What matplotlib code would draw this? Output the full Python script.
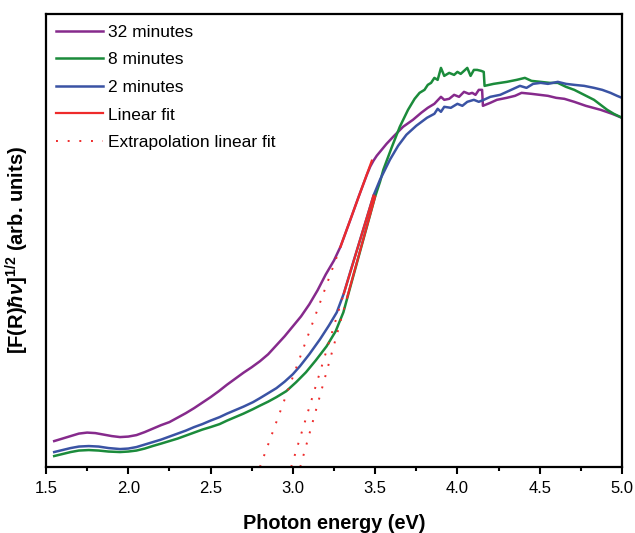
import matplotlib
matplotlib.use('Agg')
import matplotlib.pyplot as plt
from matplotlib.ticker import MultipleLocator

plt.rcParams['font.family'] = ['Liberation Sans', 'DejaVu Sans']
plt.rcParams['mathtext.fontset'] = 'custom'
plt.rcParams['mathtext.rm'] = 'Liberation Sans:bold'
plt.rcParams['mathtext.it'] = 'Liberation Sans:bold:italic'
plt.rcParams['mathtext.bf'] = 'Liberation Sans:bold'

# spectra (arb. units)
x_32 = [1.55, 1.60, 1.65, 1.70, 1.75, 1.80, 1.85, 1.90, 1.95, 2.00, 2.05, 2.10,
        2.15, 2.20, 2.25, 2.30, 2.35, 2.40, 2.45, 2.50, 2.55, 2.60, 2.65, 2.70,
        2.75, 2.80, 2.85, 2.90, 2.95, 3.00, 3.05, 3.10, 3.15, 3.20, 3.25, 3.29,
        3.35, 3.40, 3.45, 3.47, 3.49, 3.51, 3.54, 3.57, 3.61, 3.67, 3.73, 3.78,
        3.82, 3.86, 3.90, 3.92, 3.95, 3.98, 4.01, 4.04, 4.07, 4.09, 4.11, 4.13,
        4.15, 4.155, 4.20, 4.24, 4.30, 4.35, 4.39, 4.45, 4.50, 4.55, 4.60, 4.65,
        4.71, 4.78, 4.87, 4.94, 5.0]
y_32 = [26, 28.5, 31, 33.5, 34.5, 34, 32.5, 31, 30, 30.5, 32, 35,
        38.5, 42, 45, 49.5, 54, 59, 64.5, 70, 76, 82.5, 88.5, 94.5,
        100, 106, 113, 122, 131, 141, 151, 163, 177, 193, 207, 221,
        248, 271, 293, 301, 307, 312, 318, 324, 331, 341, 348, 355,
        360, 364, 371, 368, 369, 373, 371, 376, 374, 375, 373, 378,
        378, 362, 365, 368, 370, 372, 375, 374, 373, 372, 370, 369,
        366, 362, 358, 354, 350]

x_8 = [1.55, 1.60, 1.65, 1.70, 1.76, 1.82, 1.88, 1.95, 2.00, 2.05, 2.10, 2.148,
       2.20, 2.25, 2.30, 2.35, 2.40, 2.45, 2.50, 2.555, 2.60, 2.65, 2.70, 2.758,
       2.80, 2.85, 2.90, 2.96, 3.02, 3.08, 3.14, 3.205, 3.26, 3.307, 3.35, 3.40,
       3.45, 3.50, 3.53, 3.55, 3.60, 3.65, 3.70, 3.74, 3.77, 3.80, 3.82, 3.84,
       3.86, 3.88, 3.90, 3.92, 3.95, 3.98, 4.00, 4.02, 4.04, 4.06, 4.08, 4.10,
       4.12, 4.145, 4.16, 4.165, 4.22, 4.30, 4.36, 4.41, 4.45, 4.506, 4.56, 4.61,
       4.66, 4.71, 4.77, 4.83, 4.87, 4.91, 4.95, 5.0]
y_8 = [11, 13, 15, 16.5, 17, 16.5, 15.5, 15, 15.5, 16.5, 18.5, 21,
       23.5, 26, 28.5, 31.5, 34.5, 37.5, 40, 43, 46.5, 50, 53.5, 58,
       61.5, 65.5, 70, 76, 85, 95, 107, 121, 136, 155, 181, 211,
       241, 271, 286, 298, 320, 341, 358, 369, 375, 378, 383, 385,
       390, 388, 400, 392, 395, 393, 396, 394, 397, 400, 392, 398,
       398, 397, 396, 382, 384, 386, 388, 390, 387, 386, 385, 385,
       381, 378, 373, 368, 363, 358, 354, 350]

x_2 = [1.55, 1.60, 1.65, 1.70, 1.76, 1.82, 1.88, 1.95, 2.00, 2.05, 2.10, 2.15,
       2.20, 2.25, 2.30, 2.35, 2.40, 2.45, 2.50, 2.555, 2.60, 2.65, 2.70, 2.758,
       2.80, 2.85, 2.90, 2.95, 3.00, 3.043, 3.10, 3.165, 3.22, 3.267, 3.31, 3.35,
       3.40, 3.45, 3.49, 3.53, 3.56, 3.59, 3.64, 3.69, 3.75, 3.815, 3.86, 3.88,
       3.90, 3.92, 3.96, 4.00, 4.03, 4.06, 4.10, 4.13, 4.16, 4.20, 4.26, 4.30,
       4.34, 4.38, 4.42, 4.46, 4.506, 4.55, 4.61, 4.66, 4.71, 4.77, 4.83, 4.88,
       4.93, 4.97, 5.0]
y_2 = [15, 17, 19, 20.5, 21, 20.5, 19, 18, 18.5, 20, 22.5, 25,
       27.5, 30.5, 33.5, 36.5, 40, 43, 46.5, 50, 53.5, 57, 60.5, 65,
       69, 74, 79, 85.5, 93, 101, 113, 128, 142, 155, 174, 196,
       223, 250, 272, 288, 298, 308, 322, 333, 342, 350, 354, 359,
       356, 361, 360, 364, 362, 366, 368, 366, 368, 371, 373, 376,
       379, 382, 380, 384, 385, 384, 386, 384, 383, 382, 380, 378,
       375, 372, 370]

# linear fits: dotted extrapolation and solid fitted part (x, y end points)
fit_32_dot_x, fit_32_dot_y = [2.80, 3.29], [0, 221]
fit_32_x, fit_32_y = [3.29, 3.48], [221, 307]
fit_2_dot_x, fit_2_dot_y = [2.99, 3.31], [0, 174]
fit_2_x, fit_2_y = [3.31, 3.49], [174, 272]
fit_8_dot_x, fit_8_dot_y = [3.045, 3.33], [0, 170]
fit_8_x, fit_8_y = [3.33, 3.50], [170, 271]

purple = '#862a8c'
green = '#1b8b3b'
blue = '#3a53a4'
red = '#ee2b2b'

fig = plt.figure(figsize=(6.35, 5.33), dpi=100)
ax = fig.add_axes([0.0724, 0.1238, 0.9071, 0.8499])

ax.plot(x_32, y_32, color=purple, lw=1.8, label='32 minutes')
ax.plot(x_8, y_8, color=green, lw=1.8, label='8 minutes')
ax.plot(x_2, y_2, color=blue, lw=1.8, label='2 minutes')

dots = (0, (1, 5))
ax.plot(fit_32_dot_x, fit_32_dot_y, color=red, lw=1.4, ls=dots)
ax.plot(fit_2_dot_x, fit_2_dot_y, color=red, lw=1.4, ls=dots)
ax.plot(fit_8_dot_x, fit_8_dot_y, color=red, lw=1.4, ls=dots)
ax.plot(fit_32_x, fit_32_y, color=red, lw=1.6, label='Linear fit')
ax.plot(fit_2_x, fit_2_y, color=red, lw=1.6)
ax.plot(fit_8_x, fit_8_y, color=red, lw=1.6)
ax.plot([], [], color=red, lw=1.4, ls=dots, label='Extrapolation linear fit')

ax.set_xlim(1.5, 5.0)
ax.set_ylim(0, 454)
ax.xaxis.set_major_locator(MultipleLocator(0.5))
ax.xaxis.set_minor_locator(MultipleLocator(0.25))
ax.set_yticks([])
ax.tick_params(axis='x', which='major', direction='out', length=5, width=1.5,
               labelsize=12, pad=5)
ax.tick_params(axis='x', which='minor', direction='out', length=3, width=1.5)
for s in ax.spines.values():
    s.set_linewidth(1.6)

ax.set_xlabel('Photon energy (eV)', fontsize=14.3, fontweight='bold', labelpad=13)
ax.set_ylabel(r'[F(R)$\hbar\nu$]$^{1/2}$ (arb. units)', fontsize=14.5,
              fontweight='bold')
ax.yaxis.set_label_coords(-0.026, 0.479)

ax.legend(loc='upper left', bbox_to_anchor=(0, 1), frameon=False, fontsize=12.5,
          handlelength=2.7, handletextpad=0.3, labelspacing=0.72,
          borderaxespad=0.4, borderpad=0.2)

fig.savefig('out.png', dpi=100)
